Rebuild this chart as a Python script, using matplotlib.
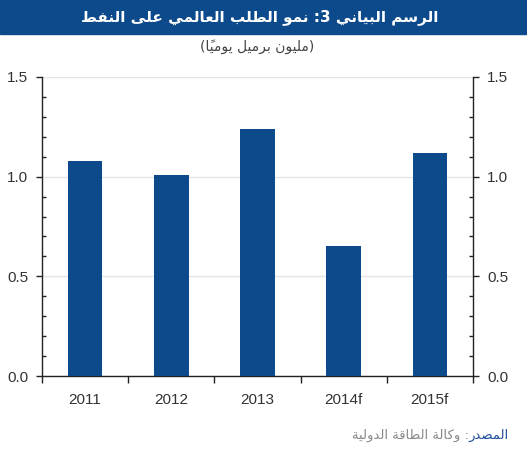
import numpy as np
import matplotlib
matplotlib.use("Agg")
import matplotlib.pyplot as plt
from matplotlib.patches import Rectangle
from matplotlib.ticker import MultipleLocator, FixedLocator, FormatStrFormatter

# donnees (millions de barils par jour)
years = ["2011", "2012", "2013", "2014f", "2015f"]
demand_growth = [1.08, 1.01, 1.24, 0.65, 1.12]

title = "الرسم البياني 3: نمو الطلب العالمي على النفط"
subtitle = "(مليون برميل يومياً)"
source_label = "المصدر"
source_text = ": وكالة الطاقة الدولية"

BLUE = "#0c4a8c"
GREY_TXT = "#333333"

# matplotlib ne fait pas le shaping arabe : formes de presentation (iso, fin, ini, med)
FORMS = {
    "\u0627": (0xFE8D, 0xFE8E, None, None),  # alef
    "\u0628": (0xFE8F, 0xFE90, 0xFE91, 0xFE92),  # beh
    "\u0629": (0xFE93, 0xFE94, None, None),  # teh marbuta
    "\u062F": (0xFEA9, 0xFEAA, None, None),  # dal
    "\u0631": (0xFEAD, 0xFEAE, None, None),  # reh
    "\u0633": (0xFEB1, 0xFEB2, 0xFEB3, 0xFEB4),  # seen
    "\u0635": (0xFEB9, 0xFEBA, 0xFEBB, 0xFEBC),  # sad
    "\u0637": (0xFEC1, 0xFEC2, 0xFEC3, 0xFEC4),  # tah
    "\u0639": (0xFEC9, 0xFECA, 0xFECB, 0xFECC),  # ain
    "\u0641": (0xFED1, 0xFED2, 0xFED3, 0xFED4),  # feh
    "\u0642": (0xFED5, 0xFED6, 0xFED7, 0xFED8),  # qaf
    "\u0643": (0xFED9, 0xFEDA, 0xFEDB, 0xFEDC),  # kaf
    "\u0644": (0xFEDD, 0xFEDE, 0xFEDF, 0xFEE0),  # lam
    "\u0645": (0xFEE1, 0xFEE2, 0xFEE3, 0xFEE4),  # meem
    "\u0646": (0xFEE5, 0xFEE6, 0xFEE7, 0xFEE8),  # noon
    "\u0648": (0xFEED, 0xFEEE, None, None),  # waw
    "\u0649": (0xFEEF, 0xFEF0, None, None),  # alef maksura
    "\u064A": (0xFEF1, 0xFEF2, 0xFEF3, 0xFEF4),  # yeh
}
LAM_ALEF = (0xFEFB, 0xFEFC)


def is_mark(c):
    return "\u064B" <= c <= "\u0652"


def shape_ar(text):
    # regroupe base + diacritiques
    clusters = []
    for c in text:
        if is_mark(c) and clusters:
            clusters[-1][1] += c
        else:
            clusters.append([c, ""])
    # ligature lam-alef
    merged = []
    i = 0
    while i < len(clusters):
        b, m = clusters[i]
        if b == "\u0644" and i + 1 < len(clusters) and clusters[i + 1][0] == "\u0627":
            merged.append(["LA", m + clusters[i + 1][1]])
            i += 2
        else:
            merged.append([b, m])
            i += 1
    out = []
    for i, (b, m) in enumerate(merged):
        prev = merged[i - 1][0] if i > 0 else None
        nxt = merged[i + 1][0] if i + 1 < len(merged) else None
        prev_joins = prev in FORMS and FORMS[prev][2] is not None
        if b == "LA":
            g = chr(LAM_ALEF[1] if prev_joins else LAM_ALEF[0])
        elif b in FORMS:
            f = FORMS[b]
            next_joins = f[2] is not None and (nxt in FORMS or nxt == "LA")
            if prev_joins and next_joins:
                g = chr(f[3])
            elif prev_joins:
                g = chr(f[1])
            elif next_joins:
                g = chr(f[2])
            else:
                g = chr(f[0])
        else:
            g = b
        out.append((g, m, b))
    # ordre visuel : on inverse, les chiffres gardent leur ordre
    tokens = []
    for g, m, b in out:
        if b.isascii() and b.isdigit() and tokens and tokens[-1][-1].isdigit():
            tokens[-1] += g
        else:
            tokens.append(g + m)
    mirror = {"(": ")", ")": "("}
    return "".join(mirror.get(t, t) for t in reversed(tokens))


W, H = 527, 450
fig = plt.figure(figsize=(W / 100, H / 100), dpi=100)

# bandeau du titre
fig.patches.append(Rectangle((0, 1 - 34 / H), 1, 34 / H, transform=fig.transFigure,
                             color=BLUE, zorder=0))
fig.text(260 / W, 1 - 17 / H, shape_ar(title), ha="center", va="center", color="white",
         fontsize=11, fontweight="bold", family="DejaVu Sans")
fig.text(257 / W, 1 - 47 / H, shape_ar(subtitle), ha="center", va="center", color="#444444",
         fontsize=10, family="DejaVu Sans")

ax = fig.add_axes([42 / W, 1 - 376 / H, 431 / W, 299 / H])
x = np.arange(len(years))
ax.bar(x, demand_growth, width=0.4, color=BLUE, zorder=3)

ax.set_xlim(-0.5, len(years) - 0.5)
ax.set_ylim(0, 1.5)

ax.yaxis.set_major_locator(MultipleLocator(0.5))
ax.yaxis.set_minor_locator(MultipleLocator(0.1))
ax.yaxis.set_major_formatter(FormatStrFormatter("%.1f"))
ax.tick_params(axis="y", which="both", left=True, right=True, labelleft=True, labelright=True)
ax.tick_params(axis="y", which="major", direction="out", length=4, width=1, pad=6,
               labelsize=11, labelcolor=GREY_TXT, color="#222222")
ax.tick_params(axis="y", which="minor", direction="in", length=3, width=1, color="#222222")

# x : graduations aux frontieres, etiquettes au centre
ax.xaxis.set_major_locator(FixedLocator(np.arange(-0.5, len(years), 1)))
ax.xaxis.set_minor_locator(FixedLocator(x))
ax.set_xticklabels([], minor=False)
ax.set_xticklabels(years, minor=True)
ax.tick_params(axis="x", which="major", direction="out", length=5, width=1, color="#222222")
ax.tick_params(axis="x", which="minor", length=0, pad=12, labelsize=11, labelcolor=GREY_TXT)

for t in ax.get_xticklabels(minor=True) + ax.yaxis.get_majorticklabels():
    t.set_family("Liberation Sans")

ax.grid(axis="y", which="major", color="#e4e4e4", lw=1)
ax.set_axisbelow(True)
ax.spines["top"].set_visible(False)
for s in ["left", "right", "bottom"]:
    ax.spines[s].set_color("#222222")
    ax.spines[s].set_linewidth(1)

# source en bas a droite
lab = fig.text(509 / W, 1 - 435 / H, shape_ar(source_label), ha="right", va="center",
               color="#1f4e9a", fontsize=9.5, family="DejaVu Sans")
fig.canvas.draw()
bb = lab.get_window_extent()
fig.text(bb.x0 / W, 1 - 435 / H, shape_ar(source_text), ha="right", va="center",
         color="#8a8a8a", fontsize=9.5, family="DejaVu Sans")

fig.savefig("out.png", dpi=100)
